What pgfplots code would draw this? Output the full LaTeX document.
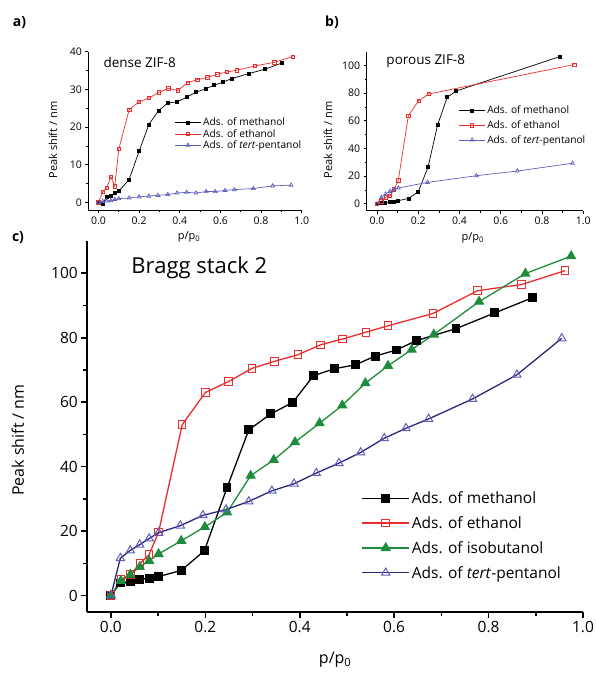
\documentclass[border=0pt]{standalone}
\usepackage{pgfplots}
\pgfplotsset{compat=1.18}
\usepackage{fontspec}
\setmainfont{Open Sans}

\definecolor{cred}{RGB}{235,45,45}
\definecolor{cgreen}{RGB}{30,140,60}
\definecolor{cnavy}{RGB}{40,38,125}
\definecolor{cblue}{RGB}{95,95,185}

\pgfplotsset{
  /pgf/number format/assume math mode=true,
  base/.style={
    scale only axis, anchor=south west,
    axis lines*=left, tick align=outside,
    xmin=-0.05, xmax=1.0,
    xtick={0,0.2,0.4,0.6,0.8,1},
    minor x tick num=1, minor y tick num=1,
    xticklabel style={/pgf/number format/.cd,fixed,fixed zerofill,precision=1},
    legend cell align=left,
    clip=false,
  },
  smallp/.style={base,
    axis line style={line width=0.7pt},
    every tick/.style={black, line width=0.7pt},
    major tick length=3pt, minor tick length=2pt,
    tick label style={font=\fontsize{10.5}{12}\selectfont},
    label style={font=\fontsize{11}{13}\selectfont},
    legend style={draw=none, fill=none, inner sep=0pt, anchor=north west,
      font=\fontsize{10.2}{11}\selectfont},
    legend image code/.code={\draw[mark repeat=2,mark phase=2]
      plot coordinates {(0pt,0pt) (12.8pt,0pt) (25.6pt,0pt)};},
  },
  meth/.style={black, line width=0.7pt, mark=square*, mark size=1.5pt},
  eth/.style={cred, line width=0.7pt, mark=square, mark size=1.7pt, mark options={fill=white}},
  tert/.style={cblue, line width=0.7pt, mark=triangle, mark size=2.2pt, mark options={fill=white}},
}

\begin{document}
\begin{tikzpicture}
\useasboundingbox (0pt,0pt) rectangle (596pt,-681pt);

% panel a
\begin{axis}[smallp, at={(88.3pt,-210pt)}, width=213.4pt, height=158.3pt,
  ymin=-2, ymax=40, ytick={0,10,20,30,40},
  xlabel={p/p\textsubscript{0}}, ylabel={Peak shift / nm},
  xlabel style={at={(axis description cs:0.472,-0.171)}, anchor=center},
  ylabel style={at={(axis description cs:-0.165,0.442)}, anchor=center},
  legend style={at={(axis description cs:0.405,0.595)}, row sep=-2pt},
]
\addplot[meth] coordinates {(0,0) (0.021,-0.3) (0.041,1.6) (0.062,1.7) (0.082,2.6) (0.10,3.0) (0.151,6.1) (0.2,13.6) (0.248,20.7) (0.295,24.3) (0.341,26.4) (0.387,26.7) (0.434,27.9) (0.48,29.3) (0.526,30.1) (0.567,31.1) (0.611,31.9) (0.657,32.9) (0.741,34.2) (0.821,35.4) (0.903,37.0)};
\addlegendentry{Ads. of methanol}
\addplot[eth] coordinates {(0,0) (0.021,2.8) (0.041,3.9) (0.061,6.8) (0.08,4.3) (0.10,14.2) (0.151,24.6) (0.2,26.7) (0.248,27.7) (0.297,29.2) (0.344,30.3) (0.39,29.7) (0.439,31.8) (0.487,32.6) (0.536,33.2) (0.584,34.0) (0.631,34.6) (0.68,35.1) (0.769,36.2) (0.866,37.2) (0.956,38.7)};
\addlegendentry{Ads. of ethanol}
\addplot[tert] coordinates {(0,0) (0.021,0.3) (0.041,0.4) (0.061,0.5) (0.08,0.8) (0.1,1.0) (0.151,1.2) (0.2,1.5) (0.248,1.7) (0.293,1.9) (0.341,2.1) (0.387,2.5) (0.434,2.7) (0.48,2.5) (0.53,2.9) (0.575,2.9) (0.623,3.2) (0.669,3.4) (0.762,3.7) (0.857,4.4) (0.948,4.6)};
\addlegendentry{Ads. of \textit{tert}-pentanol}
\node[anchor=west, font=\fontsize{13.5}{15}\selectfont] at (axis description cs:0.055,0.935) {dense ZIF-8};
\end{axis}

% panel b
\begin{axis}[smallp, at={(366.7pt,-210.7pt)}, width=216.6pt, height=159pt,
  ymin=-5, ymax=110, ytick={0,20,40,60,80,100},
  xlabel={p/p\textsubscript{0}}, ylabel={Peak shift / nm},
  xlabel style={at={(axis description cs:0.49,-0.172)}, anchor=center},
  ylabel style={at={(axis description cs:-0.179,0.445)}, anchor=center},
  legend style={at={(axis description cs:0.425,0.672)}, row sep=1.3pt},
]
\addplot[meth] coordinates {(0,0) (0.019,0.7) (0.04,1.0) (0.061,1.2) (0.081,1.7) (0.103,2.2) (0.153,3.9) (0.2,8.7) (0.247,26.4) (0.294,57.1) (0.34,77.0) (0.384,81.6) (0.887,106.5)};
\addlegendentry{Ads. of methanol}
\addplot[eth] coordinates {(0,0) (0.021,1.7) (0.042,4.8) (0.063,5.8) (0.082,10.4) (0.103,16.9) (0.152,63.7) (0.202,74.6) (0.25,79.4) (0.956,100.7)};
\addlegendentry{Ads. of ethanol}
\addplot[tert] coordinates {(0,0) (0.021,4.6) (0.042,7.0) (0.063,9.0) (0.082,10.4) (0.103,11.4) (0.245,15.5) (0.482,20.3) (0.68,23.7) (0.948,29.3)};
\addlegendentry{Ads. of \textit{tert}-pentanol}
\node[anchor=west, font=\fontsize{13.5}{15}\selectfont] at (axis description cs:0.075,0.94) {porous ZIF-8};
\end{axis}

% panel c
\begin{axis}[base, at={(87.3pt,-611.7pt)}, width=495.7pt, height=370.7pt,
  ymin=-5, ymax=110, ytick={0,20,40,60,80,100},
  axis line style={line width=1.6pt},
  every tick/.style={black, line width=1.6pt},
  major tick length=6pt, minor tick length=4pt,
  tick label style={font=\fontsize{15.5}{18}\selectfont},
  label style={font=\fontsize{16}{19}\selectfont},
  xlabel={p/p\textsubscript{0}}, ylabel={Peak shift / nm},
  xlabel style={at={(axis description cs:0.5,-0.130)}, anchor=center},
  ylabel style={at={(axis description cs:-0.140,0.463)}, anchor=center},
  legend style={draw=none, fill=none, inner sep=0pt, anchor=north west,
    at={(axis description cs:0.553,0.33)}, row sep=7.5pt,
    font=\fontsize{15.5}{18}\selectfont},
  legend image code/.code={\draw[mark repeat=2,mark phase=2]
    plot coordinates {(0pt,0pt) (23.5pt,0pt) (47pt,0pt)};},
]
\addplot[black, line width=1.3pt, mark=square*, mark size=3.8pt] coordinates {(0,0) (0.02,3.9) (0.041,4.4) (0.061,5.0) (0.081,5.4) (0.101,5.9) (0.149,7.8) (0.198,13.9) (0.246,33.5) (0.292,51.4) (0.339,56.4) (0.385,59.9) (0.429,68.2) (0.474,70.4) (0.518,71.6) (0.560,74.3) (0.605,76.2) (0.647,79.1) (0.731,82.8) (0.813,87.7) (0.893,92.4)};
\addlegendentry{Ads. of methanol}
\addplot[cred, line width=1.3pt, mark=square, mark size=3.8pt, mark options={fill=white, line width=1pt}] coordinates {(0,0) (0.021,5.0) (0.041,6.5) (0.062,10.0) (0.081,12.7) (0.101,19.7) (0.151,53.0) (0.2,63.0) (0.249,66.4) (0.299,70.5) (0.347,72.7) (0.396,74.7) (0.444,77.8) (0.491,79.6) (0.540,81.7) (0.587,83.7) (0.682,87.5) (0.777,94.6) (0.870,96.5) (0.962,100.8)};
\addlegendentry{Ads. of ethanol}
\addplot[cgreen, line width=1.3pt, mark=triangle*, mark size=4.8pt] coordinates {(0,0) (0.021,4.6) (0.041,6.5) (0.061,8.9) (0.081,10.8) (0.101,12.9) (0.149,17.0) (0.199,21.3) (0.246,25.8) (0.296,37.2) (0.345,42.1) (0.390,47.6) (0.442,53.5) (0.490,59.0) (0.539,65.9) (0.587,71.3) (0.637,76.3) (0.684,81.0) (0.780,91.2) (0.878,99.9) (0.975,105.3)};
\addlegendentry{Ads. of isobutanol}
\addplot[cnavy, line width=1.3pt, mark=triangle, mark size=4.8pt, mark options={cblue, fill=white, line width=1pt}] coordinates {(0,0) (0.020,11.6) (0.041,14.0) (0.061,15.8) (0.081,17.7) (0.101,19.5) (0.147,21.7) (0.195,24.9) (0.244,26.7) (0.292,29.2) (0.341,32.5) (0.388,34.7) (0.435,38.0) (0.483,41.1) (0.529,44.4) (0.579,48.8) (0.625,51.9) (0.673,54.8) (0.766,61.0) (0.860,68.5) (0.955,79.8)};
\addlegendentry{Ads. of \textit{tert}-pentanol}
\node[anchor=west, font=\fontsize{22}{26}\selectfont] at (axis description cs:0.082,0.927) {Bragg stack 2};
\end{axis}

\node[anchor=center, font=\bfseries\fontsize{14}{16}\selectfont] at (19.5pt,-23pt) {a)};
\node[anchor=center, font=\bfseries\fontsize{14}{16}\selectfont] at (332pt,-22pt) {b)};
\node[anchor=center, font=\bfseries\fontsize{14}{16}\selectfont] at (18pt,-238pt) {c)};
\end{tikzpicture}
\end{document}
